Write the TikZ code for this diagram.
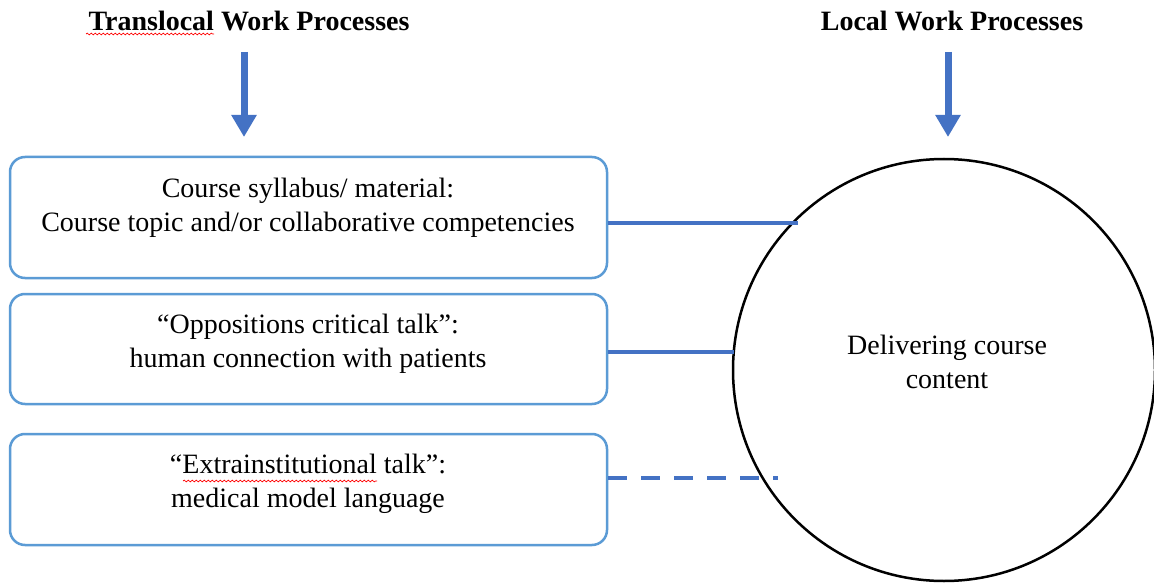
\documentclass[tikz,border=0pt]{standalone}
\usepackage{fontspec}
\setmainfont{Liberation Serif}
\usetikzlibrary{arrows.meta,decorations.pathmorphing}
\definecolor{boxblue}{HTML}{5B9BD5}
\definecolor{lineblue}{HTML}{4472C4}
\begin{document}
\begin{tikzpicture}[x=1pt,y=-1pt,
  box/.style={draw=boxblue,line width=2.5pt,rounded corners=15pt,minimum width=597pt,inner sep=0pt},
  txt/.style={align=center,inner sep=0pt,font=\fontsize{28}{34}\selectfont},
  title/.style={inner sep=0pt,font=\fontsize{28}{34}\selectfont\bfseries},
  conn/.style={draw=lineblue,line width=4pt},
  dashconn/.style={conn,dash pattern=on 19pt off 14pt},
  bigarrow/.style={draw=lineblue,line width=7pt,-{Triangle[width=24pt,length=22pt]},color=lineblue},
  circ/.style={circle,draw=black,line width=2.5pt,minimum size=422pt,inner sep=0pt},
  squig/.style={draw=red,line width=0.7pt,decorate,decoration={snake,segment length=4pt,amplitude=0.9pt}}]
\useasboundingbox (0,0) rectangle (1154,583);
\fill[white] (0,0) rectangle (1154,583);

% titles
\node[title] (tt) at (249,21) {Translocal Work Processes};
\node[title] (lt) at (952,21) {Local Work Processes};
\draw[squig] (86,34) -- (214,34);

% arrows
\coordinate (a1s) at (244,52);
\coordinate (a1e) at (244,137);
\coordinate (a2s) at (948,52);
\coordinate (a2e) at (948,137);
\draw[bigarrow] (a1s) -- (a1e);
\draw[bigarrow] (a2s) -- (a2e);

% boxes
\node[box,minimum height=121pt] (b1) at (308.5,217.5) {};
\node[box,minimum height=110pt] (b2) at (308.5,349) {};
\node[box,minimum height=111pt] (b3) at (308.5,489.5) {};
\node[txt] (t1) at (308,208) {Course syllabus/ material:\\Course topic and/or collaborative competencies};
\node[txt] (t2) at (308,343.5) {``Oppositions critical talk'':\\human connection with patients};
\node[txt] (t3) at (308,483.5) {``Extrainstitutional talk'':\\medical model language};
\draw[squig] (183,481) -- (377,481);

% circle
\node[circ] (c) at (944,370) {};
\node[txt] (ct) at (947,362) {Delivering course\\content};

% connectors
\coordinate (e1) at (798,223);
\coordinate (e2) at (734,352);
\coordinate (e3) at (778,478);
\draw[conn] (b1.east |- e1) -- (e1);
\draw[conn] (b2.east |- e2) -- (e2);
\draw[dashconn] (b3.east |- e3) -- (e3);
\end{tikzpicture}
\end{document}
